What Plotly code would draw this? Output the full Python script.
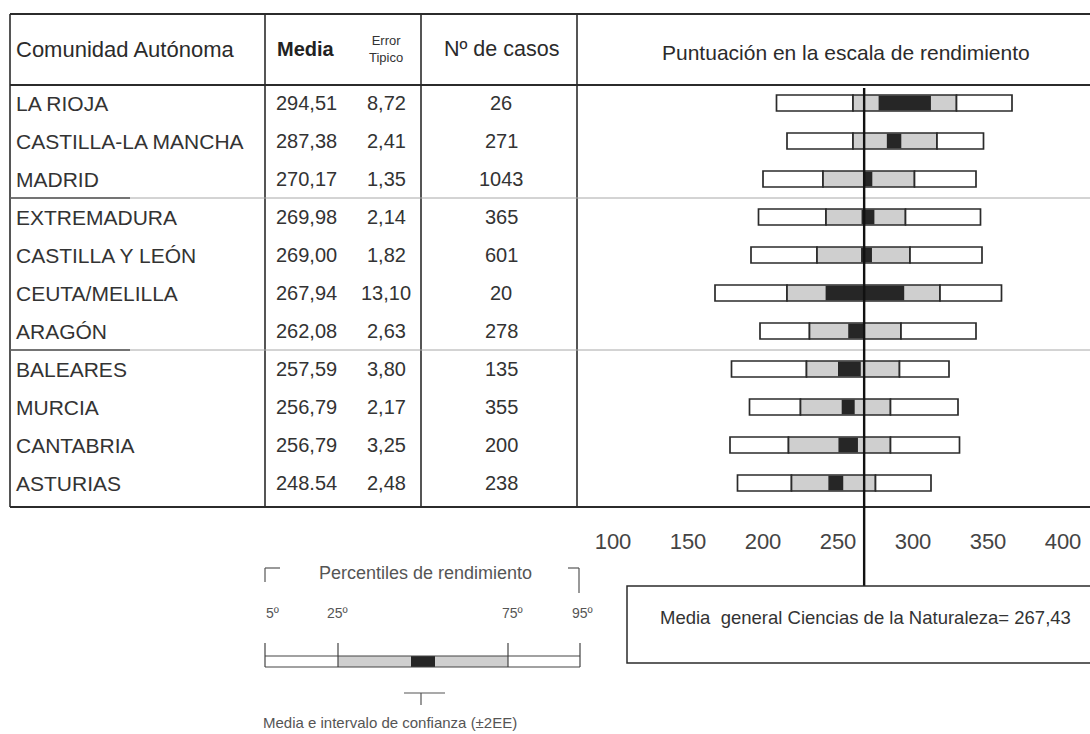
import plotly.graph_objects as go

comunidades = ["LA RIOJA", "CASTILLA-LA MANCHA", "MADRID", "EXTREMADURA",
               "CASTILLA Y LEÓN", "CEUTA/MELILLA", "ARAGÓN", "BALEARES",
               "MURCIA", "CANTABRIA", "ASTURIAS"]
media_txt = ["294,51", "287,38", "270,17", "269,98", "269,00", "267,94",
             "262,08", "257,59", "256,79", "256,79", "248.54"]
error_txt = ["8,72", "2,41", "1,35", "2,14", "1,82", "13,10",
             "2,63", "3,80", "2,17", "3,25", "2,48"]
casos = [26, 271, 1043, 365, 601, 20, 278, 135, 355, 200, 238]

# percentiles
p5 = [209, 216, 200, 197, 192, 168, 198, 179, 191, 178, 183]
p25 = [260, 260, 240, 242, 236, 216, 231, 229, 225, 217, 219]
p75 = [329, 316, 301, 295, 298, 318, 292, 291, 285, 285, 275]
p95 = [366, 347, 342, 345, 346, 359, 342, 324, 330, 331, 312]

media_general = 267.43
escala_ticks = [100, 150, 200, 250, 300, 350, 400]

W, H = 1090, 734
FONT = "Liberation Sans, Arial, sans-serif"
INK = "#2b2b2b"

media = [float(s.replace(",", ".")) for s in media_txt]
error = [float(s.replace(",", ".")) for s in error_txt]
rows = list(range(len(comunidades)))


def px(x):
    return x / W


def py(y):
    return 1 - y / H


fig = go.Figure()

bar_h = 0.42
fig.add_trace(go.Bar(orientation="h", y=rows, base=p5,
                     x=[b - a for a, b in zip(p5, p25)], width=bar_h,
                     marker=dict(color="white", line=dict(color=INK, width=1.7))))
fig.add_trace(go.Bar(orientation="h", y=rows, base=p25,
                     x=[b - a for a, b in zip(p25, p75)], width=bar_h,
                     marker=dict(color="#cfcfcf", line=dict(color=INK, width=1.7))))
fig.add_trace(go.Bar(orientation="h", y=rows, base=p75,
                     x=[b - a for a, b in zip(p75, p95)], width=bar_h,
                     marker=dict(color="white", line=dict(color=INK, width=1.7))))
fig.add_trace(go.Bar(orientation="h", y=rows,
                     base=[m - 2 * e for m, e in zip(media, error)],
                     x=[4 * e for e in error], width=bar_h - 0.04,
                     marker=dict(color="#262626", line=dict(width=0))))

shapes = []


def line(x0, y0, x1, y1, color=INK, w=1.6):
    shapes.append(dict(type="line", xref="paper", yref="paper",
                       x0=px(x0), y0=py(y0), x1=px(x1), y1=py(y1),
                       line=dict(color=color, width=w)))


# table frame
line(10, 14, W, 14, w=2)
line(10, 85, W, 85, w=2)
line(10, 507, W, 507, w=2)
for xc in [10, 265, 421, 577]:
    line(xc, 14, xc, 507, w=1.6)

# group separators
for r in [2.5, 6.5]:
    shapes.append(dict(type="line", xref="paper", yref="y", x0=px(10), x1=1,
                       y0=r, y1=r, line=dict(color="#a8a8a8", width=1)))
    shapes.append(dict(type="line", xref="paper", yref="y", x0=px(10), x1=px(130),
                       y0=r, y1=r, line=dict(color="#555", width=1.4)))

# mean line
shapes.append(dict(type="line", xref="x", yref="paper", x0=media_general,
                   x1=media_general, y0=py(88), y1=py(586),
                   line=dict(color="#111", width=2.4)))

# box for general mean
shapes.append(dict(type="rect", xref="paper", yref="paper", x0=px(627), x1=px(W + 5),
                   y0=py(586), y1=py(663), line=dict(color=INK, width=1.5)))

# legend key
line(265, 568, 265, 582, color="#555", w=1.2)
line(265, 568, 280, 568, color="#555", w=1.2)
line(568, 568, 579, 568, color="#555", w=1.2)
line(579, 568, 579, 593, color="#555", w=1.2)
shapes.append(dict(type="rect", xref="paper", yref="paper", x0=px(338), x1=px(508),
                   y0=py(667), y1=py(656), fillcolor="#cfcfcf", line=dict(width=0)))
shapes.append(dict(type="rect", xref="paper", yref="paper", x0=px(411), x1=px(435),
                   y0=py(667), y1=py(656), fillcolor="#262626", line=dict(width=0)))
line(265, 656, 580, 656, color="#444", w=1.2)
line(265, 667, 580, 667, color="#444", w=1.2)
for xc in [265, 338, 508, 580]:
    line(xc, 643, xc, 667, color="#444", w=1.2)
line(404, 693, 445, 693, color="#555", w=1.2)
line(421, 693, 421, 705, color="#555", w=1.2)

ann = []


def text(s, x, y, size, color=INK, anchor="center", yref="paper", **kw):
    ann.append(dict(text=s, x=px(x), y=py(y) if yref == "paper" else y,
                    xref="paper", yref=yref, xanchor=anchor, yanchor="middle",
                    showarrow=False, font=dict(family=FONT, size=size, color=color), **kw))


# header
text("Comunidad Autónoma", 14, 49, 22, anchor="left")
text("<b>Media</b>", 306, 49, 20, color="#222")
text("Error<br>Tipico", 386, 49, 13, color="#333")
text("Nº de casos", 501, 49, 21.5)
text("Puntuación en la escala de rendimiento", 846, 52, 21)

# body rows
for i, name in enumerate(comunidades):
    text(name, 14, i, 21, color="#333", anchor="left", yref="y")
    text(media_txt[i], 306, i, 20, color="#333", yref="y")
    text(error_txt[i], 386, i, 20, color="#333", yref="y")
    text(str(casos[i]), 501, i, 20, color="#333", yref="y")

text("Media  general Ciencias de la Naturaleza= 267,43", 865, 617, 18.5, color="#333")

text("Percentiles de rendimiento", 425, 573, 18, color="#555")
for lab, xc in [("5º", 272), ("25º", 337), ("75º", 512), ("95º", 582)]:
    text(lab, xc, 613, 14, color="#555")
text("Media e intervalo de confianza (±2EE)", 390, 722, 15, color="#555")

fig.update_layout(
    width=W, height=H,
    margin=dict(l=0, r=0, t=0, b=0),
    paper_bgcolor="white", plot_bgcolor="white",
    barmode="overlay", showlegend=False,
    shapes=shapes, annotations=ann,
    font=dict(family=FONT, color="#444"),
    xaxis=dict(range=[250 - 838 / 1.5, 250 + (W - 838) / 1.5],
               anchor="free", position=py(526),
               tickvals=escala_ticks, ticks="", showgrid=False, zeroline=False,
               showline=False, tickfont=dict(size=22, color="#444")),
    yaxis=dict(range=[(H - 103) / 38, -103 / 38], visible=False,
               showgrid=False, zeroline=False),
)

fig.write_html("out.html", config={"displayModeBar": False},
               post_script="document.body.style.margin='0';")
